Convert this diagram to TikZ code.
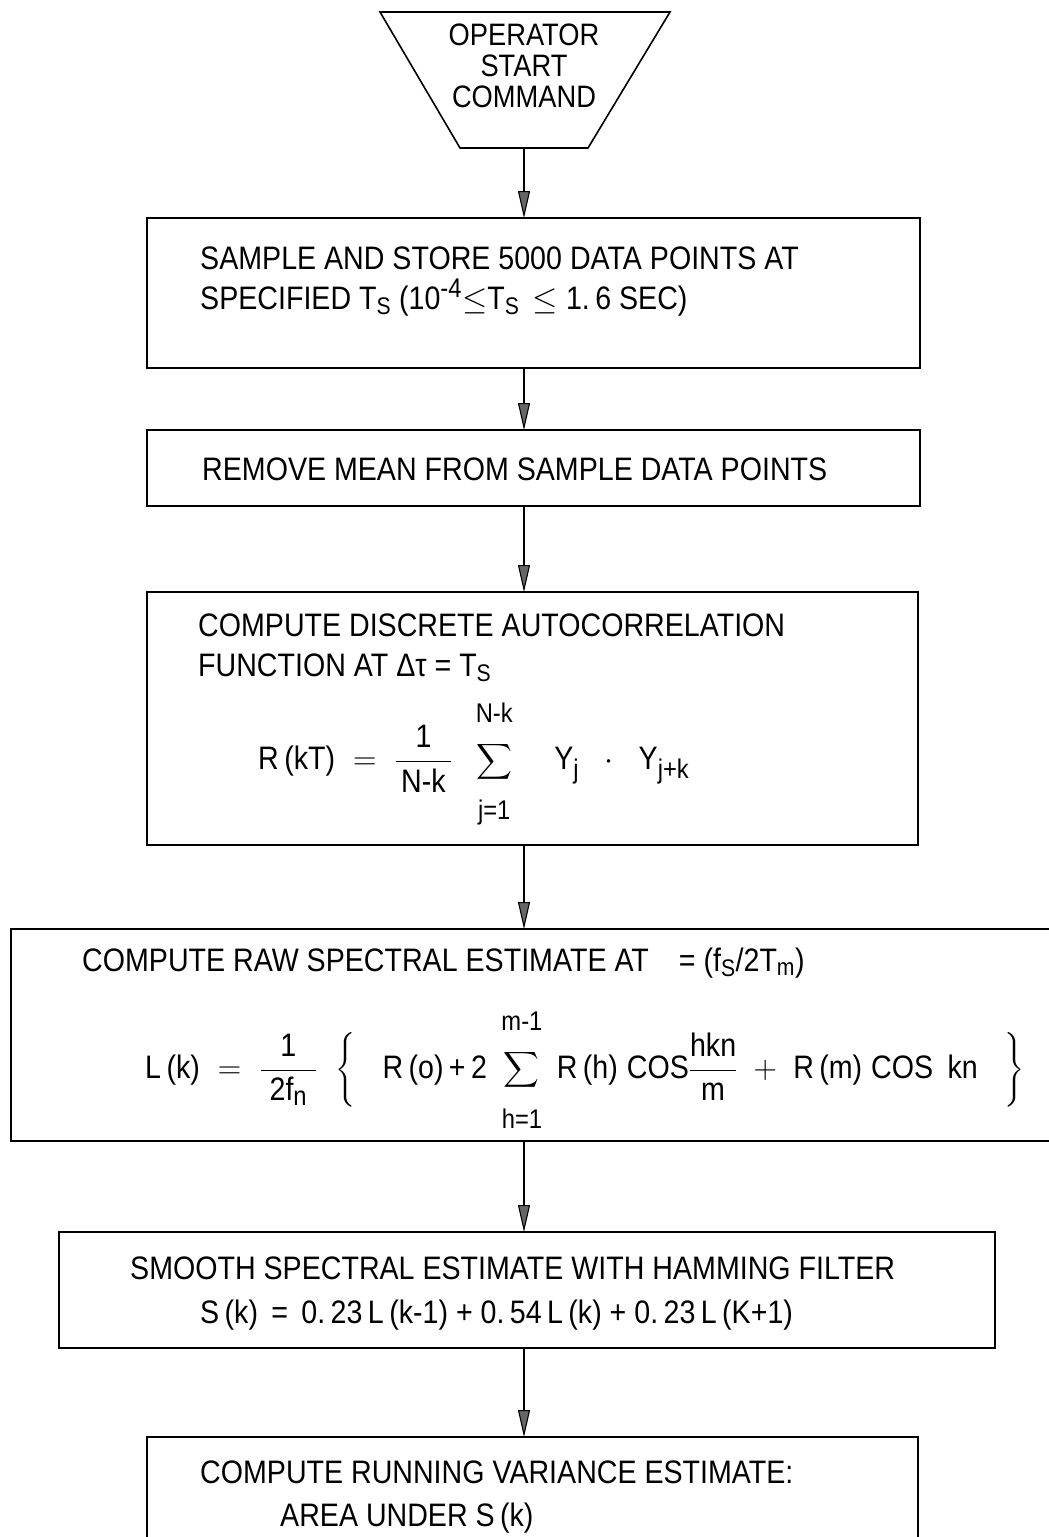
\documentclass[tikz,border=0pt]{standalone}
\usepackage{fix-cm}
\usepackage{amsmath}
\usepackage{fontspec}
\setmainfont{Liberation Sans}[FakeStretch=0.88]
\usetikzlibrary{arrows.meta}
\newcommand{\ssc}[1]{\mbox{\fontsize{24}{24}\selectfont #1}}
\newcommand{\lsc}[1]{\mbox{\fontsize{27}{27}\selectfont #1}}
\newcommand{\uplim}[1]{\mbox{\fontsize{27}{27}\selectfont\rule[-17pt]{0pt}{17pt}#1}}
\newcommand{\lolim}[1]{\mbox{\fontsize{27}{27}\selectfont\rule{0pt}{34pt}#1}}
\tikzset{
  box/.style={draw, line width=1.6pt, inner sep=0pt, outer sep=0pt},
  txt/.style={anchor=base west, inner sep=0pt, font=\fontsize{32.5}{38}\selectfont},
  frm/.style={anchor=west, inner sep=0pt, font=\fontsize{32.5}{38}\selectfont},
  ctr/.style={align=center, inner sep=0pt, font=\fontsize{31}{31}\selectfont},
  flow/.style={line width=1.1pt, -{Triangle[length=27pt,width=12pt,fill=black!60]}},
}
\begin{document}
\begin{tikzpicture}[x=1pt,y=-1pt]
\useasboundingbox (0,0) rectangle (1049,1537);
\clip (0,0) rectangle (1049,1537);

% start terminal (trapezoid)
\draw[line width=1.6pt] (380,12) -- (670,12) -- (588,148) -- (460,148) -- cycle;
\coordinate (trapbot) at (524,148);
\node[ctr] (trap) at (524,66) {OPERATOR\\START\\COMMAND};

% boxes
\node[box, minimum width=773pt, minimum height=150pt] (b1) at (533.5,293) {};
\node[box, minimum width=773pt, minimum height=76pt]  (b2) at (533.5,468) {};
\node[box, minimum width=771pt, minimum height=253pt] (b3) at (532.5,718.5) {};
\node[box, minimum width=1054pt, minimum height=212pt] (b4) at (538,1035) {};
\node[box, minimum width=936pt, minimum height=116pt] (b5) at (527,1290) {};
\node[box, minimum width=771pt, minimum height=143pt] (b6) at (532.5,1508.5) {};

% connectors
\draw[flow] (trapbot) -- (b1.north -| trapbot);
\draw[flow] (b1.south -| trapbot) -- (b2.north -| trapbot);
\draw[flow] (b2.south -| trapbot) -- (b3.north -| trapbot);
\draw[flow] (b3.south -| trapbot) -- (b4.north -| trapbot);
\draw[flow] (b4.south -| trapbot) -- (b5.north -| trapbot);
\draw[flow] (b5.south -| trapbot) -- (b6.north -| trapbot);

% box 1
\node[txt] (t1a) at (200,269) {SAMPLE AND STORE 5000 DATA POINTS AT};
\node[txt] (t1b) at (200,309) {SPECIFIED T$_{\ssc{S}}$ (10$^{\lsc{-4}}$$\leq$T$_{\ssc{S}}$ \,$\leq$ 1.\,6 SEC)};

% box 2
\node[txt] (t2) at (202,480) {REMOVE MEAN FROM SAMPLE DATA POINTS};

% box 3
\node[txt] (t3a) at (198,636) {COMPUTE DISCRETE AUTOCORRELATION};
\node[txt] (t3b) at (198,676) {FUNCTION AT Δτ = T$_{\ssc{S}}$};
\node[frm] (f3) at (258,764) {$\displaystyle \text{R\,(kT)}\;=\;\frac{\text{1}}{\,\text{N-k}\,}\;\;\sum_{\lolim{j=1}}^{\uplim{N-k}}\;\;\;\;\text{Y}_{\lsc{j}}\;\;\cdot\;\;\text{Y}_{\lsc{j+k}}$};

% box 4
\node[txt] (t4) at (82,971) {COMPUTE RAW SPECTRAL ESTIMATE AT\hspace{30pt}= (f$_{\ssc{S}}$/2T$_{\ssc{m}}$)};
\node[frm] (f4) at (145,1070) {$\displaystyle \text{L\,(k)}\;=\;\frac{\text{1}}{\;\text{2f}_{\lsc{n}}\;}\;\;\bigg\{\;\;\;\text{R\,(o)\,+\,2}\;\sum_{\lolim{h=1}}^{\uplim{m-1}}\;\text{R\,(h)\;COS}\frac{\text{hkn}}{\text{m}}\;+\;\text{R\,(m)\;COS\;\,kn}\;\;\;\bigg\}$};

% box 5
\node[txt] (t5a) at (130,1279) {SMOOTH SPECTRAL ESTIMATE WITH HAMMING FILTER};
\node[txt] (t5b) at (200,1323) {S\,(k) \,=\, 0.\,23\,L\,(k-1) + 0.\,54\,L\,(k) + 0.\,23\,L\,(K+1)};

% box 6
\node[txt] (t6a) at (200,1483) {COMPUTE RUNNING VARIANCE ESTIMATE:};
\node[txt] (t6b) at (280,1526) {AREA UNDER S\,(k)};
\end{tikzpicture}
\end{document}
